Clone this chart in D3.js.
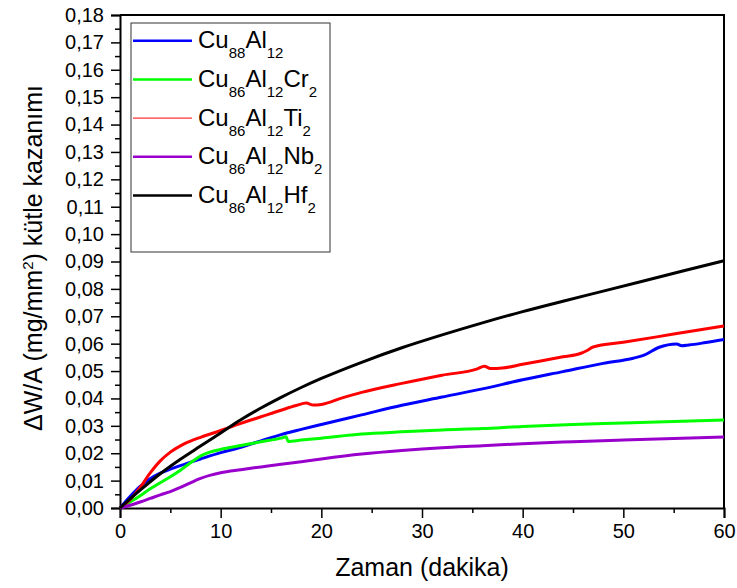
<!DOCTYPE html>
<html><head><meta charset="utf-8">
<script src="https://cdn.jsdelivr.net/npm/d3@7"></script>
<style>body{margin:0;background:#fff}svg{display:block;font-family:"Liberation Sans",Arial,sans-serif}</style>
</head><body><svg id="c" width="737" height="588"></svg>
<script>
// ---- data (time in minutes, mass gain in mg/mm^2) ----
const xTicks = [0,10,20,30,40,50,60];
const yTicks = [0,0.01,0.02,0.03,0.04,0.05,0.06,0.07,0.08,0.09,0.10,0.11,0.12,0.13,0.14,0.15,0.16,0.17,0.18];
const seriesNames = ["Cu_{88}Al_{12}","Cu_{86}Al_{12}Cr_{2}","Cu_{86}Al_{12}Ti_{2}","Cu_{86}Al_{12}Nb_{2}","Cu_{86}Al_{12}Hf_{2}"];
const seriesColors = ["#0000ff","#00ff00","#ff0000","#9900cc","#000000"];
const cuAl = [[0,0],[1,0.0042],[2,0.0079],[3,0.0107],[4,0.0127],[5,0.0142],[6,0.0155],[8,0.0179],[10,0.0202],[12,0.0222],[14,0.0245],[16,0.0268],[18,0.0287],[20,0.0305],[24,0.034],[28,0.0375],[32,0.0405],[36,0.0435],[40,0.0468],[44,0.0498],[48,0.0528],[51,0.0547],[52,0.0557],[53.5,0.0586],[55.3,0.0599],[55.8,0.0592],[56.5,0.0595],[58,0.0603],[60,0.0615]];
const cuAlCr = [[0,0],[1,0.0022],[2,0.0045],[3,0.007],[4,0.0092],[5,0.0114],[6,0.0138],[7,0.0165],[8,0.019],[9,0.0205],[10,0.0214],[12,0.0228],[14,0.0242],[16,0.0255],[16.5,0.026],[16.7,0.0243],[18,0.0248],[20,0.0255],[24,0.027],[28,0.0278],[32,0.0285],[36,0.029],[40,0.0298],[45,0.0305],[50,0.031],[55,0.0316],[60,0.0321]];
const cuAlTi = [[0,0],[1,0.003],[2,0.0075],[3,0.0128],[4,0.0172],[5,0.0204],[6,0.0227],[7,0.0244],[8,0.0258],[10,0.0283],[12,0.0309],[14,0.0333],[16,0.0357],[17.5,0.0374],[18.5,0.0383],[19.2,0.0376],[20,0.0378],[22,0.0401],[24,0.0422],[28,0.0455],[32,0.0485],[35.5,0.0508],[36.2,0.0518],[36.8,0.0509],[38,0.0511],[40,0.0525],[44,0.0552],[45.8,0.0565],[46.4,0.0575],[47,0.0588],[50,0.0605],[55,0.0635],[60,0.0665]];
const cuAlNb = [[0,0],[1,0.001],[2,0.0022],[3,0.0035],[4,0.0048],[5,0.006],[6,0.0075],[7,0.0092],[8,0.0108],[9,0.012],[10,0.0129],[12,0.014],[14,0.015],[16,0.016],[18,0.0169],[20,0.0179],[24,0.0197],[28,0.021],[32,0.022],[36,0.0227],[40,0.0235],[45,0.0242],[50,0.0248],[55,0.0254],[60,0.0259]];
const cuAlHf = [[0,0],[2,0.0065],[4,0.0125],[6,0.0178],[8,0.0226],[10,0.0274],[12,0.0322],[14,0.0365],[16,0.0404],[18,0.044],[20,0.0473],[24,0.0532],[28,0.0585],[32,0.0632],[36,0.0676],[40,0.0717],[44,0.0755],[48,0.0792],[52,0.0829],[56,0.0866],[60,0.0903]];
const seriesData = [cuAl, cuAlCr, cuAlTi, cuAlNb, cuAlHf];
const legendLineWidths = [2.5,2.5,1,2.5,2.5];

// ---- layout ----
const svg = d3.select("#c");
const L = 120, R = 724, T = 15, B = 508;
const x = d3.scaleLinear().domain([0,60]).range([L,R]);
const y = d3.scaleLinear().domain([0,0.18]).range([B,T]);
const fmtY = v => d3.format(".2f")(v).replace(".", ",");

// minor ticks
const xMinor = d3.range(5,60,10);
const yMinor = d3.range(0,18).map(i => (i+0.5)/100);

const gx = svg.append("g").attr("transform",`translate(0,${B})`)
  .call(d3.axisBottom(x).tickValues(xTicks).tickSize(10).tickPadding(6).tickFormat(d3.format("d")));
svg.append("g").attr("transform",`translate(0,${B})`)
  .call(d3.axisBottom(x).tickValues(xMinor).tickSize(5).tickFormat(""))
  .call(g=>g.select(".domain").remove());
const gy = svg.append("g").attr("transform",`translate(${L},0)`)
  .call(d3.axisLeft(y).tickValues(yTicks).tickSize(9).tickPadding(7).tickFormat(fmtY));
svg.append("g").attr("transform",`translate(${L},0)`)
  .call(d3.axisLeft(y).tickValues(yMinor).tickSize(5).tickFormat(""))
  .call(g=>g.select(".domain").remove());
svg.selectAll(".domain").attr("stroke","#000").attr("stroke-width",2);
svg.selectAll(".tick line").attr("stroke","#000").attr("stroke-width",1.5);
gx.selectAll("text").attr("font-size",20).attr("fill","#000").attr("font-family","Liberation Sans, Arial, sans-serif");
gy.selectAll("text").attr("font-size",20).attr("fill","#000").attr("font-family","Liberation Sans, Arial, sans-serif");

// frame
svg.append("path").attr("d",`M${L},${T}H${R}V${B}`).attr("fill","none").attr("stroke","#000").attr("stroke-width",2);

// lines
const line = d3.line().x(d=>x(d[0])).y(d=>y(d[1])).curve(d3.curveMonotoneX);
seriesData.forEach((s,i)=>{
  svg.append("path").datum(s).attr("d",line).attr("fill","none")
    .attr("stroke",seriesColors[i]).attr("stroke-width",3).attr("stroke-linejoin","round");
});

// legend
svg.append("rect").attr("x",131).attr("y",23).attr("width",199).attr("height",229)
  .attr("fill","#fff").attr("stroke","#333").attr("stroke-width",1);
function richText(sel, s, size, subSize, subDy){
  const parts = s.split(/(_\{[^}]*\})/).filter(p=>p.length);
  let shifted = false;
  parts.forEach(p=>{
    if(p.startsWith("_{")){
      sel.append("tspan").attr("font-size",subSize).attr("dy",shifted?0:subDy).text(p.slice(2,-1));
      shifted = true;
    } else {
      sel.append("tspan").attr("font-size",size).attr("dy",shifted?-subDy:0).text(p);
      shifted = false;
    }
  });
}
seriesNames.forEach((n,i)=>{
  const ly = 40.7 + i*38.7;
  svg.append("line").attr("x1",133).attr("x2",192).attr("y1",ly).attr("y2",ly)
    .attr("stroke",seriesColors[i]).attr("stroke-width",legendLineWidths[i]);
  const t = svg.append("text").attr("x",198).attr("y",ly+7.5).attr("fill","#000");
  richText(t, n, 24, 15, 10);
});

// axis titles
svg.append("text").attr("x",422).attr("y",576).attr("text-anchor","middle")
  .attr("font-size",25).attr("fill","#000").text("Zaman (dakika)");
const yl = svg.append("text").attr("transform","translate(42,258) rotate(-90)")
  .attr("text-anchor","middle").attr("font-size",25).attr("fill","#000");
yl.append("tspan").text("\u0394W/A (mg/mm");
yl.append("tspan").attr("font-size",15).attr("dy",-9).text("2");
yl.append("tspan").attr("dy",9).text(") kütle kazanımı");
</script></body></html>
